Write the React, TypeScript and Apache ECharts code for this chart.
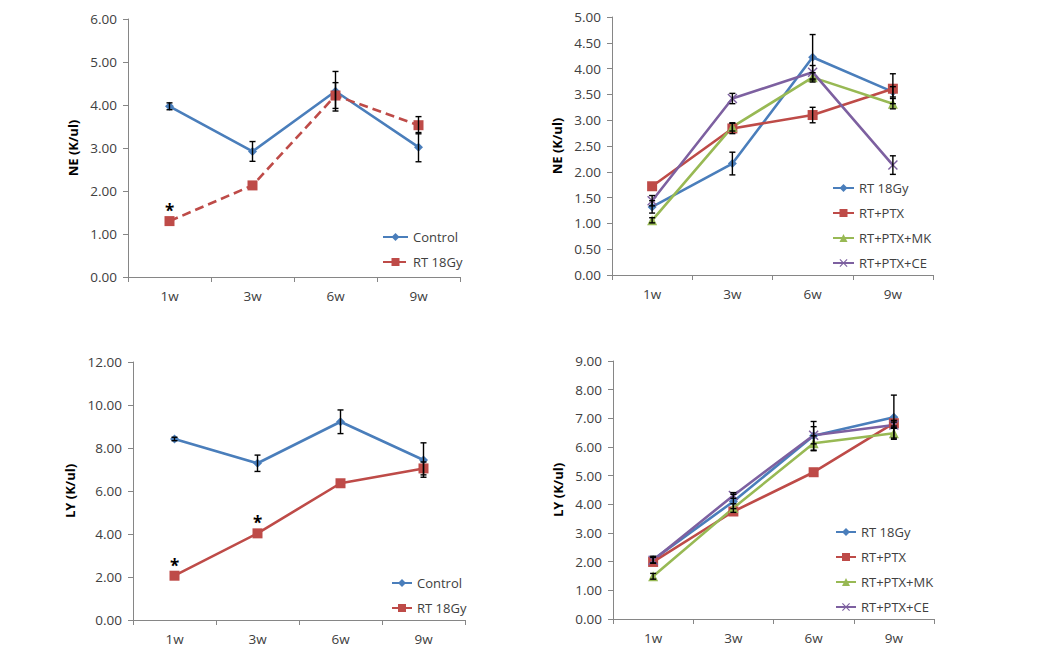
import React, { useEffect, useRef } from "react";
import * as echarts from "echarts";

// ---------- data ----------
const weeks = ["1w", "3w", "6w", "9w"];

// Top-left: NE, Control vs RT 18Gy
const neControl = [3.97, 2.92, 4.32, 3.02];
const neControlErr = [0.08, 0.23, 0.46, 0.34];
const neRT = [1.3, 2.13, 4.22, 3.53];
const neRTErr = [0, 0, 0.3, 0.2];
const neRTStar = [true, false, false, false];

// Top-right: NE, treatment groups
const neRT18 = [1.32, 2.16, 4.22, 3.55];
const neRT18Err = [0.12, 0.22, 0.44, 0.1];
const nePTX = [1.72, 2.84, 3.1, 3.61];
const nePTXErr = [0, 0.1, 0.15, 0.29];
const neMK = [1.06, 2.87, 3.83, 3.32];
const neMKErr = [0.05, 0.08, 0.09, 0.1];
const neCE = [1.44, 3.42, 3.93, 2.13];
const neCEErr = [0.1, 0.1, 0.13, 0.18];

// Bottom-left: LY, Control vs RT 18Gy
const lyControl = [8.42, 7.29, 9.22, 7.44];
const lyControlErr = [0.08, 0.38, 0.55, 0.8];
const lyRT = [2.06, 4.03, 6.36, 7.05];
const lyRTErr = [0, 0, 0, 0.3];
const lyRTStar = [true, true, false, false];

// Bottom-right: LY, treatment groups
const lyRT18 = [2.07, 4.1, 6.39, 7.04];
const lyRT18Err = [0.12, 0.25, 0.5, 0.77];
const lyPTX = [1.99, 3.75, 5.12, 6.83];
const lyPTXErr = [0, 0, 0, 0.1];
const lyMK = [1.49, 3.87, 6.13, 6.48];
const lyMKErr = [0.1, 0.15, 0.26, 0.17];
const lyCE = [2.05, 4.31, 6.41, 6.77];
const lyCEErr = [0.1, 0.1, 0.3, 0.1];

// ---------- styles ----------
const FONT = "Open Sans";
const BLUE = "#4A7EBB";
const RED = "#BE4B48";
const GREEN = "#98B954";
const PURPLE = "#7D60A0";
const AXIS = "#868686";
const TEXT = "#404040";
const XMARK =
  "path://M0,1L1,0L5,4L9,0L10,1L6,5L10,9L9,10L5,6L1,10L0,9L4,5Z";

type SeriesDef = {
  name: string;
  values: number[];
  errs: number[];
  color: string;
  symbol: string;
  symbolSize: number;
  dashed?: boolean;
  stars?: boolean[];
};

type PanelDef = {
  box: { left: number; top: number };
  grid: { left: number; top: number; width: number; height: number };
  yName: string;
  yNameGap: number;
  yMax: number;
  yInterval: number;
  legend: { left: number; top: number; itemWidth: number };
  series: SeriesDef[];
};

const panels: PanelDef[] = [
  {
    box: { left: 0, top: 0 },
    grid: { left: 128, top: 19, width: 332, height: 258 },
    yName: "NE (K/ul)",
    yNameGap: 47,
    yMax: 6,
    yInterval: 1,
    legend: { left: 382, top: 230, itemWidth: 25 },
    series: [
      { name: "Control", values: neControl, errs: neControlErr, color: BLUE, symbol: "diamond", symbolSize: 9 },
      { name: "RT 18Gy", values: neRT, errs: neRTErr, color: RED, symbol: "rect", symbolSize: 10, dashed: true, stars: neRTStar },
    ],
  },
  {
    box: { left: 525, top: 0 },
    grid: { left: 87, top: 17, width: 321, height: 258 },
    yName: "NE (K/ul)",
    yNameGap: 46,
    yMax: 5,
    yInterval: 0.5,
    legend: { left: 307, top: 181, itemWidth: 21 },
    series: [
      { name: "RT 18Gy", values: neRT18, errs: neRT18Err, color: BLUE, symbol: "diamond", symbolSize: 9 },
      { name: "RT+PTX", values: nePTX, errs: nePTXErr, color: RED, symbol: "rect", symbolSize: 10 },
      { name: "RT+PTX+MK", values: neMK, errs: neMKErr, color: GREEN, symbol: "triangle", symbolSize: 10 },
      { name: "RT+PTX+CE", values: neCE, errs: neCEErr, color: PURPLE, symbol: XMARK, symbolSize: 10 },
    ],
  },
  {
    box: { left: 0, top: 336 },
    grid: { left: 133, top: 26, width: 332, height: 258 },
    yName: "LY (K/ul)",
    yNameGap: 56,
    yMax: 12,
    yInterval: 2,
    legend: { left: 391, top: 240, itemWidth: 20 },
    series: [
      { name: "Control", values: lyControl, errs: lyControlErr, color: BLUE, symbol: "diamond", symbolSize: 9 },
      { name: "RT 18Gy", values: lyRT, errs: lyRTErr, color: RED, symbol: "rect", symbolSize: 10, stars: lyRTStar },
    ],
  },
  {
    box: { left: 525, top: 336 },
    grid: { left: 88, top: 25, width: 321, height: 258 },
    yName: "LY (K/ul)",
    yNameGap: 46,
    yMax: 9,
    yInterval: 1,
    legend: { left: 310, top: 189, itemWidth: 20 },
    series: [
      { name: "RT 18Gy", values: lyRT18, errs: lyRT18Err, color: BLUE, symbol: "diamond", symbolSize: 9 },
      { name: "RT+PTX", values: lyPTX, errs: lyPTXErr, color: RED, symbol: "rect", symbolSize: 10 },
      { name: "RT+PTX+MK", values: lyMK, errs: lyMKErr, color: GREEN, symbol: "triangle", symbolSize: 10 },
      { name: "RT+PTX+CE", values: lyCE, errs: lyCEErr, color: PURPLE, symbol: XMARK, symbolSize: 10 },
    ],
  },
];

function errorBarSeries(s: SeriesDef) {
  return {
    type: "custom",
    silent: true,
    z: 5,
    data: s.values.map((v, i) => [i, v, s.errs[i]]),
    encode: { x: 0, y: 1 },
    renderItem: (_params: any, api: any) => {
      const idx = api.value(0);
      const v = api.value(1);
      const e = api.value(2);
      if (!e) return { type: "group", children: [] };
      const top = api.coord([idx, v + e]);
      const bot = api.coord([idx, v - e]);
      const x = top[0];
      const style = { stroke: "#000", lineWidth: 1.4 };
      return {
        type: "group",
        children: [
          { type: "line", shape: { x1: x, y1: top[1], x2: x, y2: bot[1] }, style },
          { type: "line", shape: { x1: x - 3, y1: top[1], x2: x + 3, y2: top[1] }, style },
          { type: "line", shape: { x1: x - 3, y1: bot[1], x2: x + 3, y2: bot[1] }, style },
        ],
      };
    },
  };
}

function makeOption(p: PanelDef) {
  const lineSeries = p.series.map((s) => ({
    type: "line",
    name: s.name,
    symbol: s.symbol,
    symbolSize: s.symbolSize,
    showAllSymbol: true,
    z: 3,
    lineStyle: { color: s.color, width: 2.6, type: s.dashed ? [9, 5] : "solid" },
    itemStyle: { color: s.color, borderWidth: 0 },
    data: s.values.map((v, i) =>
      s.stars && s.stars[i]
        ? {
            value: v,
            label: {
              show: true,
              formatter: "*",
              position: "top",
              distance: -3,
              fontSize: 17,
              fontWeight: "bold",
              color: "#000",
              fontFamily: FONT,
            },
          }
        : v
    ),
  }));
  return {
    animation: false,
    textStyle: { fontFamily: FONT },
    grid: { ...p.grid, containLabel: false },
    legend: {
      orient: "vertical",
      left: p.legend.left,
      top: p.legend.top,
      itemWidth: p.legend.itemWidth,
      itemHeight: 10,
      itemGap: 11,
      padding: 0,
      selectedMode: false,
      data: p.series.map((s) => s.name),
      textStyle: { fontSize: 13, color: TEXT, fontFamily: FONT, lineHeight: 14 },
    },
    xAxis: {
      type: "category",
      data: weeks,
      boundaryGap: true,
      axisLine: { lineStyle: { color: AXIS, width: 1 } },
      axisTick: { show: true, length: 5, lineStyle: { color: AXIS } },
      axisLabel: { color: TEXT, fontSize: 13.5, margin: 12, fontFamily: FONT },
      splitLine: { show: false },
    },
    yAxis: {
      type: "value",
      min: 0,
      max: p.yMax,
      interval: p.yInterval,
      name: p.yName,
      nameLocation: "middle",
      nameGap: p.yNameGap,
      nameRotate: 90,
      nameTextStyle: { fontSize: 13, fontWeight: "bold", color: "#000", fontFamily: FONT },
      axisLine: { show: true, lineStyle: { color: AXIS, width: 1 } },
      axisTick: { show: true, length: 5, lineStyle: { color: AXIS } },
      axisLabel: {
        color: TEXT,
        fontSize: 13.5,
        margin: 11,
        fontFamily: FONT,
        formatter: (v: number) => v.toFixed(2),
      },
      splitLine: { show: false },
    },
    series: [...lineSeries, ...p.series.map(errorBarSeries)],
  };
}

function Panel({ p }: { p: PanelDef }) {
  const ref = useRef<HTMLDivElement>(null);
  useEffect(() => {
    if (!ref.current) return;
    const chart = echarts.init(ref.current, undefined, { renderer: "svg" });
    chart.setOption(makeOption(p) as any);
    return () => chart.dispose();
  }, [p]);
  return (
    <div
      ref={ref}
      style={{
        position: "absolute",
        left: p.box.left,
        top: p.box.top,
        width: 525,
        height: 336,
      }}
    />
  );
}

export default function App() {
  return (
    <div
      style={{
        position: "fixed",
        left: 0,
        top: 0,
        width: 1050,
        height: 672,
        background: "#fff",
      }}
    >
      {panels.map((p, i) => (
        <Panel key={i} p={p} />
      ))}
    </div>
  );
}
